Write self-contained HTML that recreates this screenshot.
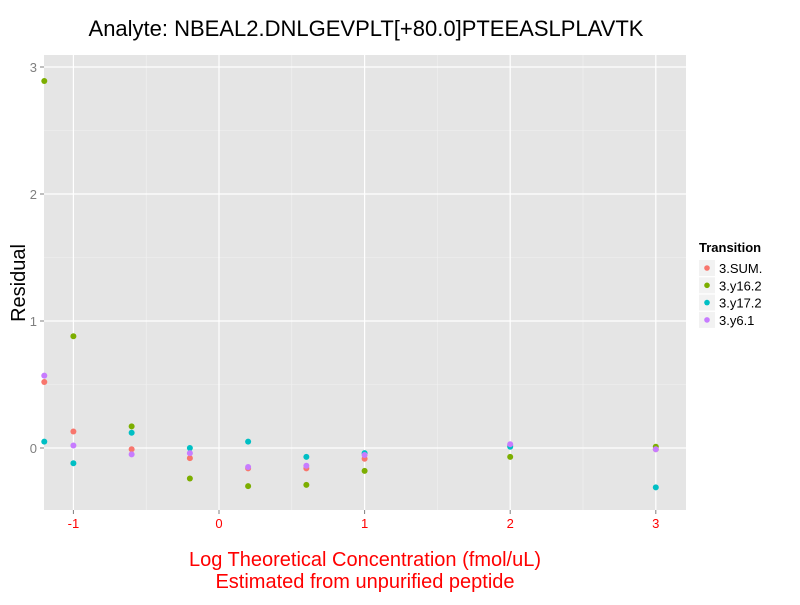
<!DOCTYPE html>
<html><head><meta charset="utf-8"><style>
body{margin:0;background:#fff;font-family:"Liberation Sans",sans-serif}
svg text{font-family:"Liberation Sans",sans-serif}
</style></head><body>
<svg id="chart" width="800" height="600">
<text x="366" y="36" font-size="22" text-anchor="middle">Analyte: NBEAL2.DNLGEVPLT[+80.0]PTEEASLPLAVTK</text>
<rect x="44" y="55" width="642" height="455" fill="#e5e5e5"/>
<g id="grid"></g><g id="axes"></g><g id="pts"></g>
<text x="365" y="566" font-size="20" fill="#ff0000" text-anchor="middle">Log Theoretical Concentration (fmol/uL)</text>
<text x="365" y="588" font-size="20" fill="#ff0000" text-anchor="middle">Estimated from unpurified peptide</text>
<text transform="translate(25,283) rotate(-90)" font-size="20" text-anchor="middle">Residual</text>
<g>
<text x="699" y="252" font-size="13" font-weight="bold">Transition</text>
<g id="legend"></g>
</g>
</svg>
<script>
const series = ["3.SUM.","3.y16.2","3.y17.2","3.y6.1"];
const colors = ["#f8766d","#7cae00","#00bfc4","#c77cff"];
const xs = [-1.2,-1,-0.6,-0.2,0.2,0.6,1,2,3];
const sumVals = [0.52,0.13,-0.01,-0.08,-0.16,-0.16,-0.085,0.02,-0.01];
const y162Vals = [2.89,0.88,0.17,-0.24,-0.30,-0.29,-0.18,-0.07,0.01];
const y172Vals = [0.05,-0.12,0.12,0.0,0.05,-0.07,-0.04,0.01,-0.31];
const y61Vals = [0.57,0.02,-0.05,-0.04,-0.15,-0.14,-0.055,0.03,-0.01];
const xTicks = [-1,0,1,2,3];
const yTicks = [0,1,2,3];
const allVals=[sumVals,y162Vals,y172Vals,y61Vals];
const ns="http://www.w3.org/2000/svg";
const X=v=>219+(v)*145.6, Y=v=>448-v*127;
function mk(t,a,p){const e=document.createElementNS(ns,t);for(const k in a)e.setAttribute(k,a[k]);p.appendChild(e);return e;}
const grid=document.getElementById('grid'),axes=document.getElementById('axes'),pts=document.getElementById('pts'),leg=document.getElementById('legend');
for(let i=0;i<xTicks.length-1;i++){const m=(xTicks[i]+xTicks[i+1])/2;const l=mk('line',{x1:X(m),x2:X(m),y1:55,y2:510,stroke:'#f2f2f2','stroke-width':0.6},grid);

}
for(let i=0;i<yTicks.length-1;i++){const m=(yTicks[i]+yTicks[i+1])/2;const l=mk('line',{x1:44,x2:686,y1:Y(m),y2:Y(m),stroke:'#f2f2f2','stroke-width':0.6},grid);

}
xTicks.forEach(t=>{const l=mk('line',{x1:X(t),x2:X(t),y1:55,y2:510,stroke:'#fff','stroke-width':1.2},grid);


mk('line',{x1:X(t),x2:X(t),y1:510,y2:514,stroke:'#7f7f7f'},axes);
const tx=mk('text',{x:X(t),y:528,'font-size':13,fill:'#ff0000','text-anchor':'middle'},axes);tx.textContent=t;

});
yTicks.forEach(t=>{const l=mk('line',{x1:44,x2:686,y1:Y(t),y2:Y(t),stroke:'#fff','stroke-width':1.2},grid);


mk('line',{x1:40,x2:44,y1:Y(t),y2:Y(t),stroke:'#7f7f7f'},axes);
const tx=mk('text',{x:37,y:Y(t)+5,'font-size':13,fill:'#7f7f7f','text-anchor':'end'},axes);tx.textContent=t;

});
allVals.forEach((vals,s)=>{vals.forEach((v,i)=>{const c=mk('circle',{cx:X(xs[i]),cy:Y(v),r:3,fill:colors[s]},pts);

});
const y=268+s*17.3;
const bg=mk('rect',{x:699,y:y-8,width:16,height:16,fill:'#f2f2f2'},leg);


mk('circle',{cx:707,cy:y,r:2.8,fill:colors[s]},leg);
const tx=mk('text',{x:719,y:y+5,'font-size':13},leg);tx.textContent=series[s];

});
</script>
</body></html>
